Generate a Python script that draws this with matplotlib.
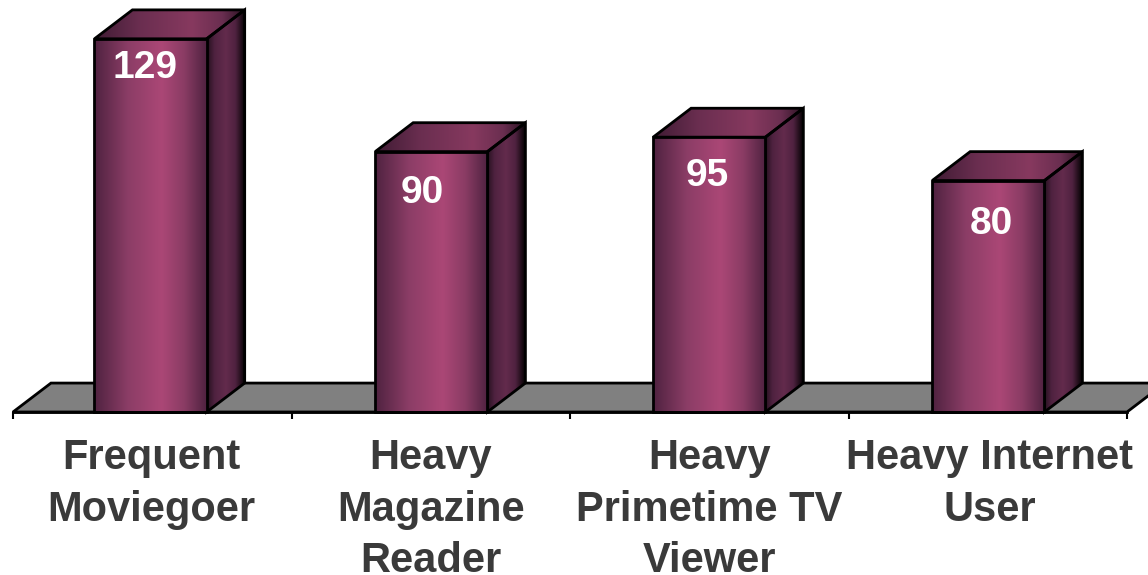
import matplotlib
matplotlib.use("Agg")
import matplotlib.pyplot as plt
import numpy as np
from matplotlib.colors import LinearSegmentedColormap
from matplotlib.patches import Polygon

categories = ["Frequent\nMoviegoer", "Heavy\nMagazine\nReader",
              "Heavy\nPrimetime TV\nViewer", "Heavy Internet\nUser"]
values = [129, 90, 95, 80]
# label nudges in px, the labels do not sit on the bar centre
label_dx = [-7, -8, -2, 4]
label_y = [68, 193, 176, 224]
bar_dx = [-0.006, 0.002, 0, 0.002]
tick_dx = [-0.004, 0, 0, 0.006]

W, H = 1148, 575
BASE_PX = 412
PX_PER_UNIT = 2.893
BAR_W = 0.403
DX = 0.1364   # depth in category units
DY = 10.0     # depth in value units
LW = 2.0

front = LinearSegmentedColormap.from_list("front", [
    (0, "#4f2240"), (0.3, "#8b3d66"), (0.6, "#ab4776"), (0.8, "#8a3c64"), (1, "#4f2240")])
side = LinearSegmentedColormap.from_list("side", [
    (0, "#24101e"), (0.2, "#4f2240"), (0.5, "#632b4c"), (0.75, "#4f2240"), (1, "#050203")])
top = LinearSegmentedColormap.from_list("top", [
    (0, "#3f1b33"), (0.3, "#6a2e50"), (0.65, "#87395f"), (0.85, "#6a2e50"), (1, "#2a1222")])

plt.rcParams["font.family"] = ["Liberation Sans", "DejaVu Sans"]
fig = plt.figure(figsize=(W / 100, H / 100), dpi=100)
ax = fig.add_axes([13 / W, (H - BASE_PX) / H, 1114 / W, BASE_PX / H])

grad = np.linspace(0, 1, 256).reshape(1, -1)


def shaded(poly_pts, cmap, z):
    xs = [p[0] for p in poly_pts]
    ys = [p[1] for p in poly_pts]
    im = ax.imshow(grad, cmap=cmap, aspect="auto", zorder=z, clip_on=True,
                   extent=[min(xs), max(xs), min(ys), max(ys)], interpolation="bilinear")
    poly = Polygon(poly_pts, closed=True, fc="none", ec="black", lw=LW, zorder=z + 0.1,
                   joinstyle="miter", clip_on=False)
    ax.add_patch(poly)
    im.set_clip_path(poly)


# floor
floor = Polygon([(-0.5, 0), (-0.5 + DX, DY), (3.5 + DX, DY), (3.5, 0)], closed=True,
                fc="#808080", ec="black", lw=LW, zorder=1, clip_on=False)
ax.add_patch(floor)

for i, v in enumerate(values):
    l, r = i + bar_dx[i] - BAR_W / 2, i + bar_dx[i] + BAR_W / 2
    shaded([(r, 0), (r + DX, DY), (r + DX, v + DY), (r, v)], side, 2)
    shaded([(l, v), (l + DX, v + DY), (r + DX, v + DY), (r, v)], top, 2)
    shaded([(l, 0), (l, v), (r, v), (r, 0)], front, 3)
    px = 13 + (i + 0.5) * 1114 / 4 + label_dx[i]
    fig.text(px / W, 1 - label_y[i] / H, str(v), color="white", fontsize=28,
             fontweight="bold", ha="center", va="center", zorder=10)

ax.set_xlim(-0.5, 3.5)
ax.set_ylim(0, BASE_PX / PX_PER_UNIT)
ax.patch.set_visible(False)
for s in ["top", "left", "right"]:
    ax.spines[s].set_visible(False)
ax.spines["bottom"].set_linewidth(LW)
ax.spines["bottom"].set_zorder(5)
ax.set_yticks([])
ax.set_xticks([i + d for i, d in enumerate(tick_dx)])
ax.set_xticklabels(categories, fontsize=30, fontweight="bold", color="#3a3a3a", linespacing=1.36)
ax.set_xticks(np.arange(-0.5, 4), minor=True)
ax.tick_params(axis="x", which="major", length=0, pad=19)
ax.tick_params(axis="x", which="minor", length=5, width=1.5, color="black")

fig.savefig("out.png", dpi=100)
